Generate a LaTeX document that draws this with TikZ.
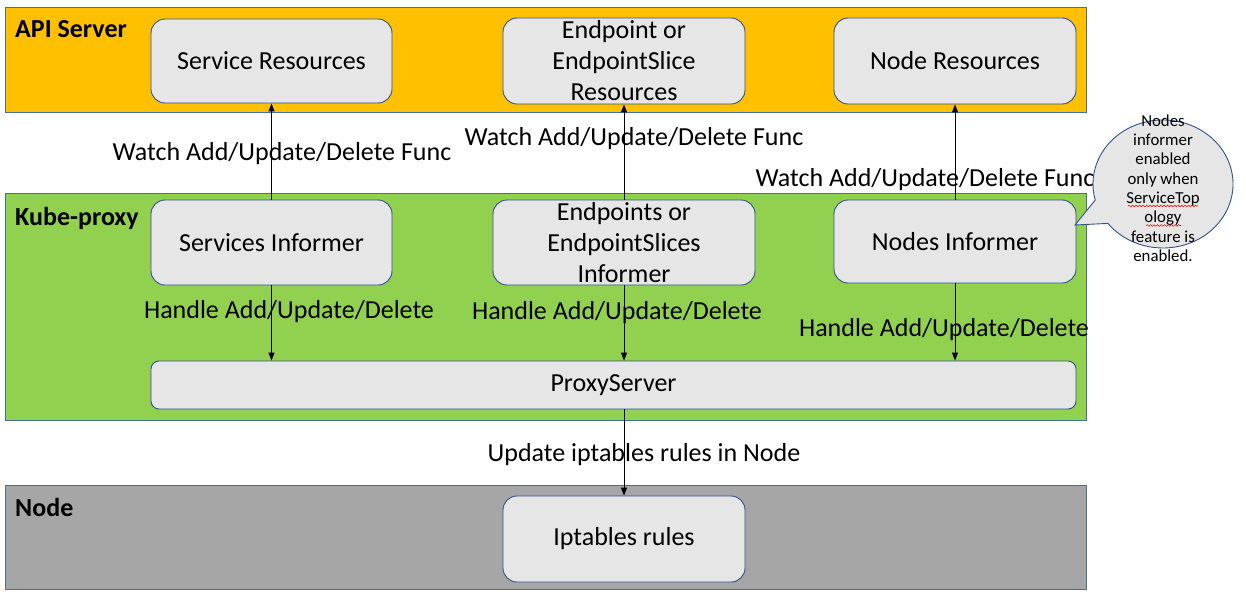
\documentclass[tikz,border=0pt]{standalone}
\usepackage{fontspec}
\setmainfont{Carlito}
\usetikzlibrary{arrows.meta,decorations.pathmorphing}
\definecolor{apiorange}{HTML}{FFC000}
\definecolor{kgreen}{HTML}{92D050}
\definecolor{ngray}{HTML}{A6A6A6}
\definecolor{boxfill}{HTML}{E7E6E6}
\definecolor{bandline}{HTML}{41719C}
\definecolor{boxline}{HTML}{2F528F}
\tikzset{
  band/.style={draw=bandline, line width=0.9pt, inner sep=0pt, anchor=north west},
  box/.style={draw=boxline, fill=boxfill, line width=0.9pt, rounded corners=14pt, align=center, inner sep=0pt,
    font=\fontsize{26}{31}\selectfont},
  title/.style={font=\fontsize{26}{30}\selectfont\bfseries, anchor=base west, inner sep=0pt},
  lbl/.style={font=\fontsize{26}{30}\selectfont, inner sep=0pt},
  conn/.style={draw=black, line width=0.9pt, -{Triangle[length=8pt,width=6pt]}},
  squiggle/.style={draw=red, line width=0.6pt, decorate, decoration={snake, amplitude=0.8pt, segment length=3.5pt}},
}
\begin{document}
\begin{tikzpicture}[x=1pt,y=-1pt]
\useasboundingbox[fill=white] (0,0) rectangle (1246,599);
% bands
\node[band, fill=apiorange, minimum width=1081, minimum height=105] (api) at (5,7) {};
\node[band, fill=kgreen, minimum width=1081, minimum height=227] (kp) at (5,193) {};
\node[band, fill=ngray, minimum width=1081, minimum height=104] (nd) at (5,485) {};
\node[title] (apit) at (15,38) {API Server};
\node[title] (kpt) at (15,225) {Kube-proxy};
\node[title] (ndt) at (15,516) {Node};
% boxes
\node[box, minimum width=241, minimum height=84] (sr) at (271.5,61) {Service Resources};
\node[box, minimum width=242, minimum height=86] (er) at (624,61) {Endpoint or\\EndpointSlice\\Resources};
\node[box, minimum width=242, minimum height=86] (nr) at (955,61) {Node Resources};
\node[box, minimum width=241, minimum height=85] (si) at (271.5,242.5) {Services Informer};
\node[box, minimum width=262, minimum height=85] (ei) at (624,242.5) {Endpoints or\\EndpointSlices\\Informer};
\node[box, minimum width=242, minimum height=83] (ni) at (955,241.5) {Nodes Informer};
\node[box, minimum width=925, minimum height=48, rounded corners=8pt] (ps) at (613.5,385) {ProxyServer};
\node[box, minimum width=242, minimum height=86] (ip) at (624,539) {Iptables rules};
% connectors
\draw[conn] (si.north) -- (sr.south);
\draw[conn] (ei.north) -- (er.south);
\draw[conn] (ni.north) -- (nr.south);
\draw[conn] (si.south) -- (si.south |- ps.north);
\draw[conn] (ei.south) -- (ei.south |- ps.north);
\draw[conn] (ni.south) -- (ni.south |- ps.north);
\draw[conn] (ps.south -| ip.north) -- (ip.north);
% labels
\node[lbl] (w1) at (282,154) {Watch Add/Update/Delete Func};
\node[lbl] (w2) at (634,139) {Watch Add/Update/Delete Func};
\node[lbl] (w3) at (925,180) {Watch Add/Update/Delete Func};
\node[lbl] (h1) at (289,312) {Handle Add/Update/Delete};
\node[lbl] (h2) at (617,313) {Handle Add/Update/Delete};
\node[lbl] (h3) at (944,330) {Handle Add/Update/Delete};
\node[lbl] (up) at (644,455) {Update iptables rules in Node};
% callout
\coordinate (cc) at (1163,184);
\coordinate (tip) at (1075,225);
\draw[draw=boxline, fill=boxfill, line width=0.9pt]
  (tip) -- (1095.23,200.02) arc[start angle=165.5, end angle=502, x radius=70, y radius=64] -- cycle;
\node[font=\fontsize{16.8}{19.3}\selectfont, align=center, inner sep=0pt] (note) at (1163,188)
  {Nodes\\informer\\enabled\\only when\\ServiceTop\\ology\\feature is\\enabled.};
\draw[squiggle] (1128,206) -- (1198,206);
\draw[squiggle] (1146,225.5) -- (1181,225.5);
\end{tikzpicture}
\end{document}
